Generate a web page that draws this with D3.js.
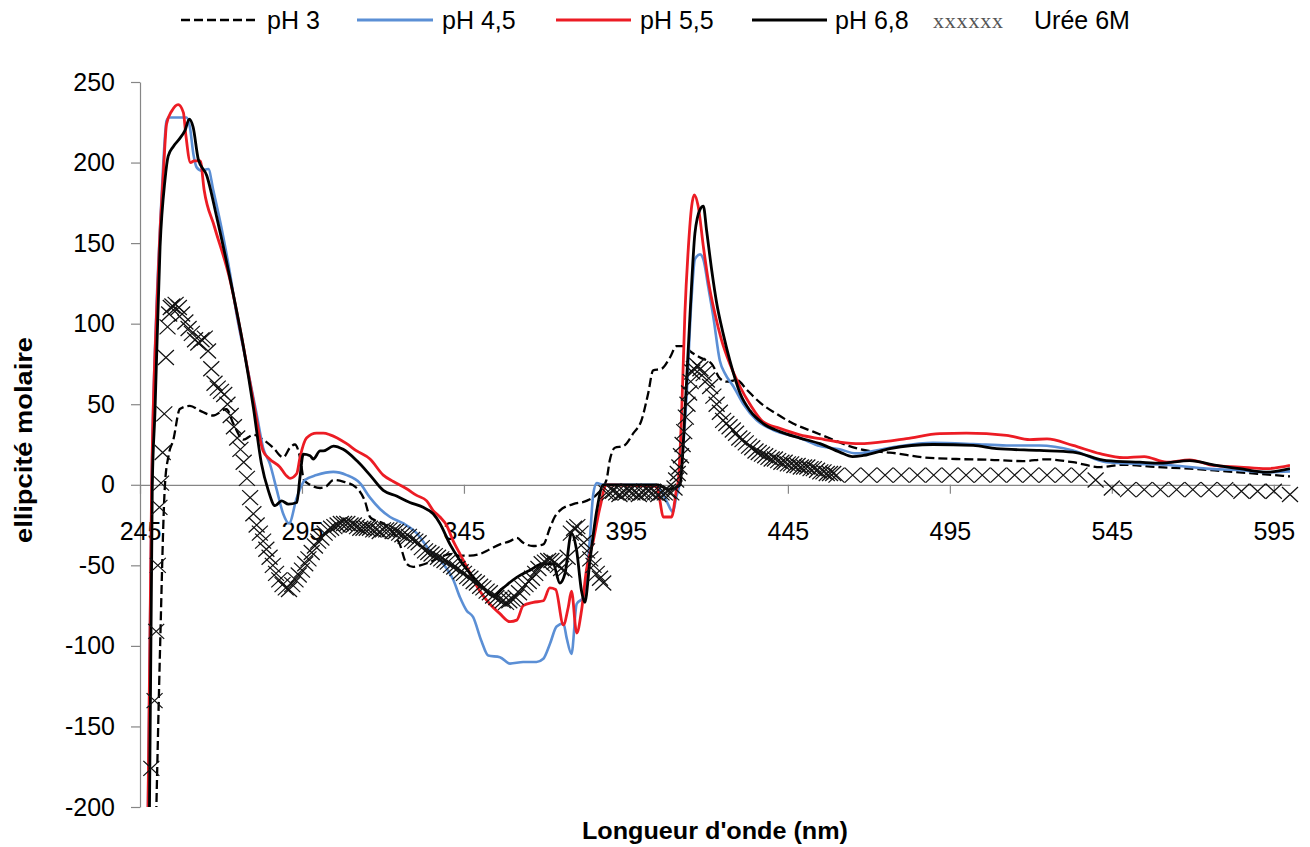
<!DOCTYPE html>
<html>
<head>
<meta charset="utf-8">
<script src="https://cdn.jsdelivr.net/npm/d3@7"></script>
<style>
  body { margin: 0; background: #fff; }
  svg { display: block; }
</style>
</head>
<body>
<svg id="chart" width="1310" height="847"></svg>
<script>
// Circular dichroism spectra: molar ellipticity vs wavelength (nm)
const nmTicks = [245, 295, 345, 395, 445, 495, 545, 595];
const valueTicks = [-200, -150, -100, -50, 0, 50, 100, 150, 200, 250];
const seriesLabels = ["pH 3", "pH 4,5", "pH 5,5", "pH 6,8", "Urée 6M"];

// [wavelength, ellipticity]
const ph3 = [[250,-205],[251.2,-101],[252.7,0],[253.8,18],[255.3,28],[257.3,47],[260.4,49],[263.5,46],[267.6,43],[271.7,47],[273.8,38],[276.9,28],[280,31],[283,28],[286.1,23],[289.2,17],[291.3,23],[292.8,25],[294.4,17],[295.6,3],[297.5,0],[300.6,-2],[302.5,-1],[304.7,3],[307.7,2],[311.9,-2],[314.4,-10],[316,-20],[317.5,-22],[320.1,-24],[323.2,-30],[325.2,-37],[327.3,-49],[329.3,-51],[331.5,-50],[334.5,-48],[337.6,-45],[340.7,-43],[343.8,-44],[346.9,-44],[349.9,-43],[353,-40],[356.1,-37],[359.2,-35],[361.3,-33],[363.3,-36],[366.4,-38],[369.5,-37],[371.5,-27],[373,-20],[374.6,-16],[378.7,-12],[382.8,-10],[386.5,-5],[389,3],[390,15],[391.6,23],[394.2,24],[397.3,32],[399.8,40],[401.9,57],[403.4,71],[406,72],[408.6,79],[410.6,86],[413.2,86],[414.8,83],[417.9,79],[421.5,75],[424,66],[426.1,64],[429.2,65],[432.3,59],[436.4,51],[441.5,44],[446.6,38],[452.8,33],[459,28],[464,24],[470,21],[476.5,20],[486.8,17],[497,16],[507.3,15.5],[517.6,14.7],[524.8,15.8],[533,14],[541.4,11],[548.5,12.4],[558.7,11],[569,10],[579.2,8.5],[590,6.8],[600,5.2]];

const ph45 = [[247.3,-230],[248.6,0],[250.1,110],[251.2,160],[252.2,200],[253.2,226],[254,228],[256,228],[258,228],[259.4,228],[260.4,222],[261.5,205],[262.5,197],[264,195],[266.1,196],[267.6,183],[270.7,154],[272.8,131],[274.8,106],[277.9,75],[281,44],[283,23],[285.1,13],[287.2,-3],[289.2,-18],[291,-24],[293.4,-8],[295.9,3],[299.5,6],[304.7,8],[308.8,6],[312.9,1],[316,-8],[319.1,-15],[322.2,-20],[326.3,-24],[330.4,-30],[334.5,-41],[338.6,-49],[341.7,-59],[343.8,-70],[345.8,-78],[347.8,-82],[350.4,-97],[352.5,-106],[356.1,-107],[359.2,-111],[363.3,-110],[367.4,-110],[369.5,-108],[371.5,-99],[373.6,-88],[375.7,-86],[376.7,-95],[378.2,-105],[379.8,-74],[381.8,-70],[383.9,-33],[384.9,-6],[386,1],[388,0],[404,0],[406,-4],[408,-12],[409.5,-17],[410.5,-8],[411.5,0],[413.7,54],[415.3,117],[416.3,140],[417.9,143],[418.9,140],[420.4,123],[422,104],[424,77],[425.6,69],[428.2,61],[431.3,50],[435.4,40],[440.5,34],[448.7,29],[454.9,24],[461,22],[466,19.5],[476.5,23],[489.8,26],[502.2,25.3],[512.5,24.4],[522.7,24.4],[533,21.3],[543.3,14],[553.6,13],[563.9,12],[574.2,10],[584.5,9],[592.7,7.8],[600,8.3]];

const ph55 = [[247.3,-230],[248.6,0],[250.1,106],[251.2,158],[252.2,193],[253.2,224],[254.8,232],[256.8,236],[258.4,231],[259.1,218],[260.6,200],[261.7,201],[263.6,201],[264.8,183],[268,160],[272.8,127],[276.9,86],[280,52],[283,21],[285,16],[288.2,11],[290,6],[291.3,4],[293.4,7],[294.4,17],[296.4,29],[299.5,32],[301.6,32],[303.7,31],[308.8,25.5],[311.9,21],[316,16],[320.1,6],[323.2,2],[327.3,-2.5],[330.4,-6.6],[333.5,-10],[335.5,-16],[337.6,-20],[339.6,-25],[341.7,-35],[343.8,-43],[346.9,-55],[349.9,-66],[353,-74],[356.1,-80],[359.2,-85],[361.3,-84],[363.3,-75],[366.4,-73],[369.5,-72],[371.5,-64],[373.3,-65],[375.7,-87],[377.2,-76],[378.2,-66],[379.8,-92],[381.3,-78],[382.8,-53],[384.9,-35],[387,-14],[389,0],[404.5,-1],[405.5,-10],[406.5,-20],[409.1,-20],[410.6,-3],[411.2,3],[412.2,44],[413.2,106],[414.3,148],[415.3,173],[416.1,180],[417.3,173],[418.9,148],[420.4,127],[422.5,106],[424.5,90],[427.1,75],[430.2,61],[433.3,50],[437.4,39],[442.5,35],[448.7,31],[454.9,28.6],[461,26.5],[467.2,25.5],[471.3,26],[481.6,28.6],[491.9,31.7],[500.1,32],[512.5,30.7],[519.7,28],[525,28.5],[533,24.4],[541.4,19.3],[548.5,16.8],[555,17.5],[561.9,14],[569,15.5],[576.3,12],[584.5,11],[592.7,10],[600,12]];

const ph68 = [[247.8,-230],[248.8,0],[249.6,44],[251.2,148],[252.7,189],[253.7,204],[255.3,210],[257.3,215],[258.9,220],[260.2,227],[261.4,222],[263,202],[265.6,192],[268.7,166],[272.7,129],[276.9,86],[280,48],[282.5,13],[284.6,-3.5],[286.7,-13],[288.7,-10],[290.8,-12],[293.4,-11],[294.4,5],[295.4,19],[297.5,18],[298.5,16],[300.6,21],[301.6,21],[304.7,24],[307.7,22],[311.9,15],[316,6],[320.1,-3.5],[324.2,-7],[328.3,-11],[332.4,-14],[335.5,-18],[337.6,-24],[340.7,-37],[343.8,-47],[346.9,-55],[351,-64],[354,-69],[357.1,-64],[361.3,-57.5],[365.4,-53],[369.5,-49],[372.5,-49],[374.6,-61],[376.2,-55],[378.2,-30],[379.8,-41],[381.3,-66],[382.3,-73],[383.9,-47],[386,-16],[388,0],[405,0],[408,-3],[410,-2],[411.7,0],[413.2,44],[414.8,106],[416.3,156],[417.9,171],[418.9,173],[419.9,158],[421.5,133],[423,113],[425,94],[427.1,77],[430.2,57],[433.3,46],[437.4,38],[442.5,33],[448.7,29],[454.9,25.5],[461,20.3],[465,17.5],[468.3,18.2],[476.5,22.4],[489.8,25],[502.2,24.4],[509.4,22.4],[522.7,21.3],[533,20.3],[543.3,15],[553.6,14],[560,13.5],[569,15],[577.3,12],[584.5,10],[592.7,7.8],[600,10]];

const uree = [[248.5,-176],[249.5,-134],[250,-91],[250.5,-50],[251,-14],[251.5,1],[252,20],[252.5,44],[253,79],[253.5,98],[254,106],[254.5,110],[255,111],[256,112],[257,110],[258,106],[259,101],[260,97],[261,94],[262,90],[263,88],[264,90],[265,91],[266,83],[267,72],[268,63],[269,60],[270,58],[271,56],[272,50],[273,43],[274,36],[275,29],[276,22],[277,14],[278,4],[279,-8],[280,-18],[281,-25],[282,-30],[283,-35],[284,-40],[285,-45],[286,-50],[287,-55],[288,-59],[289,-62],[290,-64],[291,-65],[292,-62],[293,-59],[294,-56],[295,-53],[296,-49],[297,-46],[298,-42],[299,-38],[300,-35],[301,-33],[302,-30],[303,-28],[304,-27],[305,-26],[306,-25],[307,-24],[308,-24],[309,-24],[310,-25],[311,-25],[312,-26],[313,-27],[314,-27],[315,-27],[316,-27],[317,-28],[318,-28],[319,-29],[320,-28],[321,-28],[322,-28],[323,-29],[324,-29],[325,-30],[326,-31],[327,-32],[328,-32],[329,-34],[330,-35],[331,-36],[332,-39],[333,-41],[334,-42],[335,-43],[336,-44],[337,-45],[338,-46],[339,-47],[340,-48],[341,-50],[342,-51],[343,-52],[344,-54],[345,-55],[346,-57],[347,-58],[348,-60],[349,-61],[350,-63],[351,-64],[352,-66],[353,-67],[354,-69],[355,-70],[356,-71],[357,-72],[358,-73],[359,-72],[360,-71],[361,-70],[362,-67],[363,-64],[364,-62],[365,-60],[366,-58],[367,-55],[368,-52],[369,-49],[370,-48],[371,-47],[372,-47],[373,-48],[374,-50],[375,-52],[376,-53],[377,-45],[378,-30],[379,-27],[380,-26],[381,-30],[382,-36],[383,-41],[384,-46],[385,-50],[386,-55],[387,-58],[388,-61],[389,-5],[390,-5],[391,-4],[392,-5],[393,-6],[394,-5],[395,-5],[396,-4],[397,-5],[398,-5],[399,-6],[400,-5],[401,-5],[402,-4],[403,-5],[404,-5],[405,-6],[406,-5],[407,-5],[408,-4],[409,-5],[410,-2],[410.5,3],[411,7],[411.5,11],[412,18],[412.5,25],[413,33],[413.5,42],[414,50],[414.5,57],[415,64],[415.5,70],[416,72],[417,74],[418,72],[419,69],[420,65],[421,61],[422,55],[423,50],[424,45],[425,40],[426,38],[427,36],[428,34],[429,32],[430,29],[431,28],[432,26],[433,24],[434,23],[435,21],[436,20],[437,19],[438,18],[439,17],[440,16],[441,16],[442,15],[443,14],[444,14],[445,13],[446,13],[447,12],[448,12],[449,11],[450,11],[451,11],[452,10],[453,10],[454,9],[455,8],[456,8],[457,7],[458,7],[459,7],[460,6],[465,6],[470,6],[475,6],[480,6],[485,6],[490,6],[495,6],[500,6],[505,6],[510,6],[515,6],[520,6],[525,6],[530,6],[535,6],[540,3],[545,-2],[550,-3],[555,-3],[560,-3],[565,-3],[570,-3],[575,-3],[580,-3],[585,-4],[590,-4],[595,-4],[600,-6]];

const FONT = "'Liberation Sans', Arial, 'DejaVu Sans', sans-serif";
const AXIS_GRAY = "#868686";

const svg = d3.select("#chart");
svg.append("rect").attr("width", 1310).attr("height", 847).attr("fill", "#fff");

const x = d3.scaleLinear().domain([245, 600]).range([140, 1290]);
const y = d3.scaleLinear().domain([-200, 250]).range([807, 82]);

// clip region for the curves
svg.append("defs").append("clipPath").attr("id", "plot-clip")
  .append("rect")
  .attr("x", x(245)).attr("y", y(250))
  .attr("width", x(600) - x(245)).attr("height", y(-200) - y(250));

// plain hyphen for negative labels
const plainNumber = d => String(d);

// y axis
const yAxisG = svg.append("g")
  .attr("transform", `translate(${x(245)},0)`)
  .call(d3.axisLeft(y).tickValues(valueTicks).tickFormat(plainNumber)
    .tickSize(9).tickSizeOuter(0).tickPadding(16));

// x axis on the zero line
const xAxisG = svg.append("g")
  .attr("transform", `translate(0,${y(0)})`)
  .call(d3.axisBottom(x).tickValues(nmTicks).tickFormat(plainNumber)
    .tickSize(9).tickSizeOuter(0).tickPadding(28));

[yAxisG, xAxisG].forEach(g => {
  g.attr("font-family", FONT).attr("font-size", 25);
  g.selectAll("path, line").attr("stroke", AXIS_GRAY).attr("stroke-width", 1.2);
  g.selectAll("text").attr("fill", "#000");
});

// curves
const line = d3.line()
  .x(d => x(d[0]))
  .y(d => y(d[1]))
  .curve(d3.curveMonotoneX);

const styles = [
  { data: ph3,  color: "#000000", width: 2.3, dash: "9,4" },
  { data: ph45, color: "#5b8fd5", width: 2.6, dash: null },
  { data: ph55, color: "#ec1c24", width: 2.8, dash: null },
  { data: ph68, color: "#000000", width: 2.8, dash: null }
];

const curves = svg.append("g").attr("clip-path", "url(#plot-clip)");
styles.forEach(s => {
  curves.append("path")
    .datum(s.data)
    .attr("d", line)
    .attr("fill", "none")
    .attr("stroke", s.color)
    .attr("stroke-width", s.width)
    .attr("stroke-linejoin", "round")
    .attr("stroke-dasharray", s.dash);
});

// urea series: cross markers only
const crossPath = "M-8,-7.5L8,7.5M-8,7.5L8,-7.5";
svg.append("g")
  .selectAll("path")
  .data(uree)
  .join("path")
  .attr("transform", d => `translate(${x(d[0])},${y(d[1])})`)
  .attr("d", crossPath)
  .attr("fill", "none")
  .attr("stroke", "#111")
  .attr("stroke-width", 1.25);

// legend
const legend = svg.append("g").attr("font-family", FONT).attr("font-size", 25).attr("fill", "#000");
const legendLines = [
  { x1: 181, x2: 257, tx: 267, style: styles[0] },
  { x1: 357, x2: 433, tx: 442, style: styles[1] },
  { x1: 556, x2: 631, tx: 640, style: styles[2] },
  { x1: 752, x2: 827, tx: 835, style: styles[3] }
];
legendLines.forEach((l, i) => {
  legend.append("line")
    .attr("x1", l.x1).attr("x2", l.x2).attr("y1", 20).attr("y2", 20)
    .attr("stroke", l.style.color)
    .attr("stroke-width", l.style.width + 0.4)
    .attr("stroke-dasharray", l.style.dash);
  legend.append("text").attr("x", l.tx).attr("y", 29).text(seriesLabels[i]);
});
legend.append("text")
  .attr("x", 933).attr("y", 28)
  .attr("font-family", "'Liberation Serif', 'Times New Roman', serif")
  .attr("font-size", 22)
  .attr("fill", "#555")
  .attr("textLength", 70)
  .text("xxxxxx");
legend.append("text").attr("x", 1034).attr("y", 29).text(seriesLabels[4]);

// axis titles
svg.append("text")
  .attr("x", 715).attr("y", 839)
  .attr("text-anchor", "middle")
  .attr("font-family", FONT).attr("font-weight", "bold").attr("font-size", 24)
  .attr("textLength", 266).attr("lengthAdjust", "spacingAndGlyphs")
  .text("Longueur d'onde (nm)");

svg.append("text")
  .attr("transform", "translate(32,440) rotate(-90)")
  .attr("text-anchor", "middle")
  .attr("font-family", FONT).attr("font-weight", "bold").attr("font-size", 24)
  .attr("textLength", 206).attr("lengthAdjust", "spacingAndGlyphs")
  .text("ellipcité molaire");
</script>
</body>
</html>
